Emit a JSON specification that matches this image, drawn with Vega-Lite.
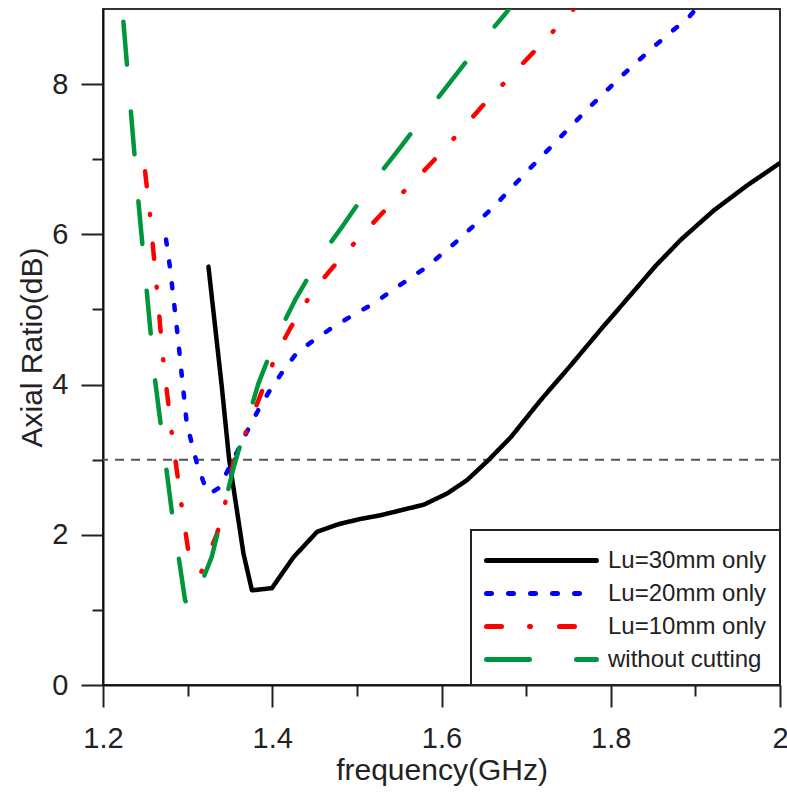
{
  "$schema": "https://vega.github.io/schema/vega-lite/v6.json",
  "autosize": {"type": "none"},
  "padding": {"left": 103, "top": 9, "right": 7, "bottom": 108},
  "width": 677,
  "height": 676,
  "background": "white",
  "config": {
    "font": "Liberation Sans",
    "view": {"stroke": "#333", "strokeWidth": 2},
    "axis": {"grid": false, "domainColor": "#111", "domainWidth": 2, "tickColor": "#222", "tickWidth": 2, "labelColor": "#222", "titleColor": "#222", "labelFont": "Liberation Sans", "titleFont": "Liberation Sans", "labelFontSize": 29, "titleFontSize": 30, "titleFontWeight": "normal"},
    "legend": {"labelFont": "Liberation Sans", "labelFontSize": 24, "labelColor": "#222"}
  },
  "layer": [
    {
      "data": {"values": [{"ref": 3}]},
      "mark": {"type": "rule", "color": "#555", "strokeWidth": 2, "strokeDash": [9, 7]},
      "encoding": {"y": {"field": "ref", "type": "quantitative", "scale": {"domain": [0, 9], "nice": false}}}
    },
    {
      "data": {"values": [
        {"series": "Lu=30mm only", "f": 1.3246, "ar": 5.57},
        {"series": "Lu=30mm only", "f": 1.3404, "ar": 3.97},
        {"series": "Lu=30mm only", "f": 1.349, "ar": 3.01},
        {"series": "Lu=30mm only", "f": 1.366, "ar": 1.75},
        {"series": "Lu=30mm only", "f": 1.376, "ar": 1.26},
        {"series": "Lu=30mm only", "f": 1.3996, "ar": 1.29},
        {"series": "Lu=30mm only", "f": 1.425, "ar": 1.70},
        {"series": "Lu=30mm only", "f": 1.453, "ar": 2.04},
        {"series": "Lu=30mm only", "f": 1.478, "ar": 2.14},
        {"series": "Lu=30mm only", "f": 1.504, "ar": 2.21},
        {"series": "Lu=30mm only", "f": 1.528, "ar": 2.26},
        {"series": "Lu=30mm only", "f": 1.579, "ar": 2.40},
        {"series": "Lu=30mm only", "f": 1.6067, "ar": 2.55},
        {"series": "Lu=30mm only", "f": 1.6304, "ar": 2.73},
        {"series": "Lu=30mm only", "f": 1.656, "ar": 3.0},
        {"series": "Lu=30mm only", "f": 1.682, "ar": 3.30},
        {"series": "Lu=30mm only", "f": 1.717, "ar": 3.79},
        {"series": "Lu=30mm only", "f": 1.753, "ar": 4.26},
        {"series": "Lu=30mm only", "f": 1.788, "ar": 4.73},
        {"series": "Lu=30mm only", "f": 1.824, "ar": 5.20},
        {"series": "Lu=30mm only", "f": 1.853, "ar": 5.58},
        {"series": "Lu=30mm only", "f": 1.883, "ar": 5.93},
        {"series": "Lu=30mm only", "f": 1.922, "ar": 6.32},
        {"series": "Lu=30mm only", "f": 1.961, "ar": 6.65},
        {"series": "Lu=30mm only", "f": 2.0, "ar": 6.95},
        {"series": "Lu=20mm only", "f": 1.2745, "ar": 5.93},
        {"series": "Lu=20mm only", "f": 1.2793, "ar": 5.55},
        {"series": "Lu=20mm only", "f": 1.288, "ar": 4.68},
        {"series": "Lu=20mm only", "f": 1.299, "ar": 3.48},
        {"series": "Lu=20mm only", "f": 1.311, "ar": 2.95},
        {"series": "Lu=20mm only", "f": 1.322, "ar": 2.60},
        {"series": "Lu=20mm only", "f": 1.3266, "ar": 2.55},
        {"series": "Lu=20mm only", "f": 1.3365, "ar": 2.62},
        {"series": "Lu=20mm only", "f": 1.350, "ar": 2.91},
        {"series": "Lu=20mm only", "f": 1.370, "ar": 3.37},
        {"series": "Lu=20mm only", "f": 1.3858, "ar": 3.71},
        {"series": "Lu=20mm only", "f": 1.3976, "ar": 3.93},
        {"series": "Lu=20mm only", "f": 1.4134, "ar": 4.19},
        {"series": "Lu=20mm only", "f": 1.429, "ar": 4.42},
        {"series": "Lu=20mm only", "f": 1.449, "ar": 4.59},
        {"series": "Lu=20mm only", "f": 1.4726, "ar": 4.77},
        {"series": "Lu=20mm only", "f": 1.4962, "ar": 4.93},
        {"series": "Lu=20mm only", "f": 1.52, "ar": 5.08},
        {"series": "Lu=20mm only", "f": 1.54, "ar": 5.24},
        {"series": "Lu=20mm only", "f": 1.583, "ar": 5.57},
        {"series": "Lu=20mm only", "f": 1.6225, "ar": 5.95},
        {"series": "Lu=20mm only", "f": 1.662, "ar": 6.37},
        {"series": "Lu=20mm only", "f": 1.697, "ar": 6.79},
        {"series": "Lu=20mm only", "f": 1.735, "ar": 7.23},
        {"series": "Lu=20mm only", "f": 1.772, "ar": 7.66},
        {"series": "Lu=20mm only", "f": 1.812, "ar": 8.10},
        {"series": "Lu=20mm only", "f": 1.851, "ar": 8.50},
        {"series": "Lu=20mm only", "f": 1.893, "ar": 8.90},
        {"series": "Lu=20mm only", "f": 1.903, "ar": 9.03},
        {"series": "Lu=10mm only", "f": 1.2497, "ar": 6.84},
        {"series": "Lu=10mm only", "f": 1.2556, "ar": 6.26},
        {"series": "Lu=10mm only", "f": 1.2635, "ar": 5.29},
        {"series": "Lu=10mm only", "f": 1.2714, "ar": 4.30},
        {"series": "Lu=10mm only", "f": 1.2813, "ar": 3.35},
        {"series": "Lu=10mm only", "f": 1.2931, "ar": 2.37},
        {"series": "Lu=10mm only", "f": 1.301, "ar": 1.77},
        {"series": "Lu=10mm only", "f": 1.316, "ar": 1.50},
        {"series": "Lu=10mm only", "f": 1.3343, "ar": 2.0},
        {"series": "Lu=10mm only", "f": 1.342, "ar": 2.29},
        {"series": "Lu=10mm only", "f": 1.354, "ar": 2.95},
        {"series": "Lu=10mm only", "f": 1.374, "ar": 3.51},
        {"series": "Lu=10mm only", "f": 1.3937, "ar": 4.08},
        {"series": "Lu=10mm only", "f": 1.4055, "ar": 4.42},
        {"series": "Lu=10mm only", "f": 1.4213, "ar": 4.75},
        {"series": "Lu=10mm only", "f": 1.4489, "ar": 5.26},
        {"series": "Lu=10mm only", "f": 1.4844, "ar": 5.73},
        {"series": "Lu=10mm only", "f": 1.5298, "ar": 6.28},
        {"series": "Lu=10mm only", "f": 1.567, "ar": 6.70},
        {"series": "Lu=10mm only", "f": 1.6047, "ar": 7.15},
        {"series": "Lu=10mm only", "f": 1.646, "ar": 7.68},
        {"series": "Lu=10mm only", "f": 1.6844, "ar": 8.14},
        {"series": "Lu=10mm only", "f": 1.722, "ar": 8.58},
        {"series": "Lu=10mm only", "f": 1.7586, "ar": 9.03},
        {"series": "without cutting", "f": 1.2241, "ar": 8.83},
        {"series": "without cutting", "f": 1.2418, "ar": 6.44},
        {"series": "without cutting", "f": 1.2615, "ar": 4.06},
        {"series": "without cutting", "f": 1.2813, "ar": 2.31},
        {"series": "without cutting", "f": 1.297, "ar": 1.13},
        {"series": "without cutting", "f": 1.303, "ar": 1.0},
        {"series": "without cutting", "f": 1.3109, "ar": 1.20},
        {"series": "without cutting", "f": 1.3286, "ar": 1.71},
        {"series": "without cutting", "f": 1.3542, "ar": 2.89},
        {"series": "without cutting", "f": 1.3838, "ar": 4.02},
        {"series": "without cutting", "f": 1.4055, "ar": 4.64},
        {"series": "without cutting", "f": 1.4272, "ar": 5.13},
        {"series": "without cutting", "f": 1.4568, "ar": 5.70},
        {"series": "without cutting", "f": 1.4844, "ar": 6.13},
        {"series": "without cutting", "f": 1.518, "ar": 6.68},
        {"series": "without cutting", "f": 1.5475, "ar": 7.10},
        {"series": "without cutting", "f": 1.583, "ar": 7.63},
        {"series": "without cutting", "f": 1.6126, "ar": 8.06},
        {"series": "without cutting", "f": 1.648, "ar": 8.57},
        {"series": "without cutting", "f": 1.6757, "ar": 8.94},
        {"series": "without cutting", "f": 1.6817, "ar": 9.03}
      ]},
      "mark": {"type": "line", "strokeWidth": 4.5, "strokeCap": "round", "strokeJoin": "round", "clip": true},
      "encoding": {
        "x": {"field": "f", "type": "quantitative", "scale": {"domain": [1.2, 2.0], "nice": false, "zero": false},
          "axis": {"title": "frequency(GHz)", "values": [1.2, 1.3, 1.4, 1.5, 1.6, 1.7, 1.8, 1.9, 2.0],
            "labelExpr": "round(datum.value*10) % 2 === 0 ? format(datum.value, '~g') : ''",
            "tickSize": 22,
            "tickDash": {"condition": {"test": "round(datum.value*10) % 2 === 0", "value": [30, 0]}, "value": [11, 40]},
            "labelPadding": 17, "labelFlush": false, "labelOverlap": false,
            "titleBaseline": "alphabetic", "titleY": 94}},
        "y": {"field": "ar", "type": "quantitative", "scale": {"domain": [0, 9], "nice": false},
          "axis": {"title": "Axial Ratio(dB)", "values": [0, 1, 2, 3, 4, 5, 6, 7, 8],
            "labelExpr": "datum.value % 2 === 0 ? format(datum.value, 'd') : ''",
            "tickSize": 22,
            "tickDash": {"condition": {"test": "datum.value % 2 === 0", "value": [30, 0]}, "value": [11, 40]},
            "labelPadding": 13, "labelFlush": false, "labelOverlap": false,
            "titleBaseline": "alphabetic", "titleX": -62, "titleAngle": -90}},
        "color": {"field": "series", "type": "nominal",
          "scale": {"domain": ["Lu=30mm only", "Lu=20mm only", "Lu=10mm only", "without cutting"], "range": ["#000000", "#0000ff", "#ff0000", "#00963c"]},
          "legend": {"title": null, "orient": "bottom-right", "offset": 0, "symbolType": "M-1,0H6.33", "symbolSize": 900, "symbolStrokeWidth": 5, "symbolFillColor": "transparent",
            "padding": 13, "rowPadding": 3, "labelOffset": 89, "labelLimit": 300, "strokeColor": "#222", "fillColor": "white",
            "encode": {"legend": {"update": {"strokeWidth": {"value": 2}}}, "symbols": {"update": {"strokeCap": {"value": "round"}, "fill": {"value": "transparent"}}}}}},
        "strokeDash": {"field": "series", "type": "nominal",
          "scale": {"domain": ["Lu=30mm only", "Lu=20mm only", "Lu=10mm only", "without cutting"], "range": [[1, 0], [5, 17], [15, 28, 1, 29], [43, 47]]},
          "legend": {"title": null, "orient": "bottom-right", "offset": 0}}
      }
    }
  ]
}
